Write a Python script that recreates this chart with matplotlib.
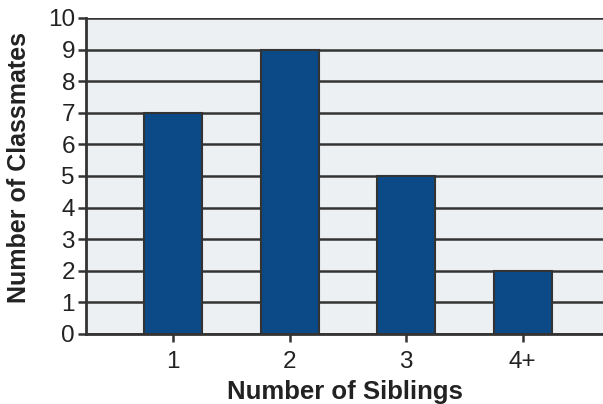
import matplotlib
matplotlib.use("Agg")
import matplotlib.pyplot as plt

categories = ["1", "2", "3", "4+"]
values = [7, 9, 5, 2]
yticks = list(range(0, 11))

plt.rcParams['font.family'] = ['Liberation Sans', 'DejaVu Sans']

fig = plt.figure(figsize=(6.03, 4.04), dpi=100)
ax = fig.add_axes([86/603, 70/404, 1 - 86/603, (334-18)/404])
ax.set_facecolor('#edf0f3')
x = list(range(len(categories)))
ax.set_axisbelow(True)
ax.yaxis.grid(True, color='#333333', linewidth=1.8)
ax.bar(x, values, width=0.5, color='#0b4a87', edgecolor='#333333', linewidth=1.5, zorder=3)
ax.set_xlim(-0.75, 3.69)
ax.set_ylim(0, 10)
ax.set_yticks(yticks)
ax.set_xticks(x)
ax.set_xticklabels(categories)
for s in ['top', 'right']:
    ax.spines[s].set_visible(False)
for s in ['left', 'bottom']:
    ax.spines[s].set_color('#333333')
    ax.spines[s].set_linewidth(2)
ax.tick_params(axis='both', colors='#333333', labelcolor='#222222', labelsize=17.5, width=1.8, length=6)
ax.tick_params(axis='y', pad=2)
ax.tick_params(axis='x', pad=6)
ax.set_xlabel('Number of Siblings', fontsize=18.5, fontweight='bold', color='#222222', labelpad=5)
ax.set_ylabel('Number of Classmates', fontsize=18, fontweight='bold', color='#222222')
ax.yaxis.set_label_coords(-0.107, 0.528)
fig.savefig('out.png', dpi=100)
